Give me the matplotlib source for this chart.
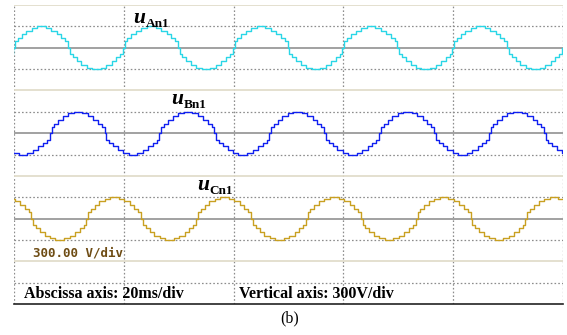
import numpy as np
import matplotlib.pyplot as plt

# staircase levels of one quarter cycle (fraction of peak, peak = 1 div)
quarter_angles = [0, 3, 12, 25, 40, 58, 76]    # degrees where a new level starts
quarter_levels = [0.0, 0.3, 0.45, 0.62, 0.8, 0.93, 1.0]

phase_names = ["An1", "Bn1", "Cn1"]
phase_lag = [0, 120, 240]                      # degrees
phase_zero = [12, 8, 4]                        # trace baseline, in divisions
phase_colors = ["#2ad6e6", "#1020f0", "#c9a021"]
n_periods = 5                                  # 20 ms/div, 50 Hz -> 1 period per div

label_pos = [(1.084, 13.15), (1.43, 9.38), (1.665, 5.36)]


def staircase(lag):
    # build half cycle from the quarter table, mirror it, then repeat
    ang = list(quarter_angles) + [180 - a for a in quarter_angles[:0:-1]]
    lev = list(quarter_levels) + list(quarter_levels[-2::-1])
    ang_full = np.array(ang + [a + 180 for a in ang])
    lev_full = np.array(lev + [-l for l in lev])
    xs, ys = [], []
    for k in range(-1, n_periods + 2):
        xs.extend((ang_full + 360 * k + lag) / 360.0)
        ys.extend(lev_full)
    return np.array(xs), np.array(ys)


fig = plt.figure(figsize=(5.67, 3.35), dpi=100)
W, H = 567, 335
ax = fig.add_axes([14 / W, (H - 304) / H, (563 - 14) / W, (304 - 5) / H])
ax.set_xlim(0, 5)
ax.set_ylim(0, 14)
for s in ["top", "left", "right"]:
    ax.spines[s].set_visible(False)
ax.spines["bottom"].set_color("#222222")
ax.spines["bottom"].set_linewidth(1.2)
ax.set_xticks([])
ax.set_yticks([])

dot = dict(color="#8c8c8c", linewidth=0.9, linestyle=(0, (1.3, 1.7)))
for xv in range(6):
    ax.axvline(xv, **dot, zorder=1)
for yv in [1, 3, 5, 7, 9, 11, 13]:
    ax.axhline(yv, **dot, zorder=1)
for yv in [2, 6, 10, 14]:
    ax.axhline(yv, color="#e2ddcc", linewidth=1.3, zorder=1)
for yv in phase_zero:
    ax.axhline(yv, color="#9a9a9a", linewidth=1.3, zorder=1)

for name, lag, y0, col, lp in zip(phase_names, phase_lag, phase_zero, phase_colors, label_pos):
    xs, ys = staircase(lag)
    ax.plot(xs, y0 + ys, drawstyle="steps-post", color=col, linewidth=1.0, zorder=3)
    u = ax.text(lp[0], lp[1], "u", family="Liberation Serif", fontweight="bold",
                fontstyle="italic", fontsize=15.5, va="baseline", ha="left", zorder=4)
    # subscript sits just right of the u, a little below its baseline
    ax.annotate(name, xy=(1, 0), xycoords=u, xytext=(0.5, 0.6),
                textcoords="offset points", family="Liberation Serif",
                fontweight="bold", fontsize=9.5, va="baseline", ha="left", zorder=4)

ax.text(0.17, 2.4, "300.00 V/div", family="DejaVu Sans Mono", fontweight="bold",
        fontsize=9, color="#6e4c14", va="center", ha="left")
ax.text(0.09, 0.3, "Abscissa axis: 20ms/div", family="Liberation Serif",
        fontweight="bold", fontsize=11.5, va="baseline", ha="left")
ax.text(2.05, 0.3, "Vertical axis: 300V/div", family="Liberation Serif",
        fontweight="bold", fontsize=11.5, va="baseline", ha="left")
fig.text(290 / W, 1 - 318 / H, "(b)", family="Liberation Serif", fontsize=11.5,
         ha="center", va="center")

fig.savefig("out.png", dpi=100)
